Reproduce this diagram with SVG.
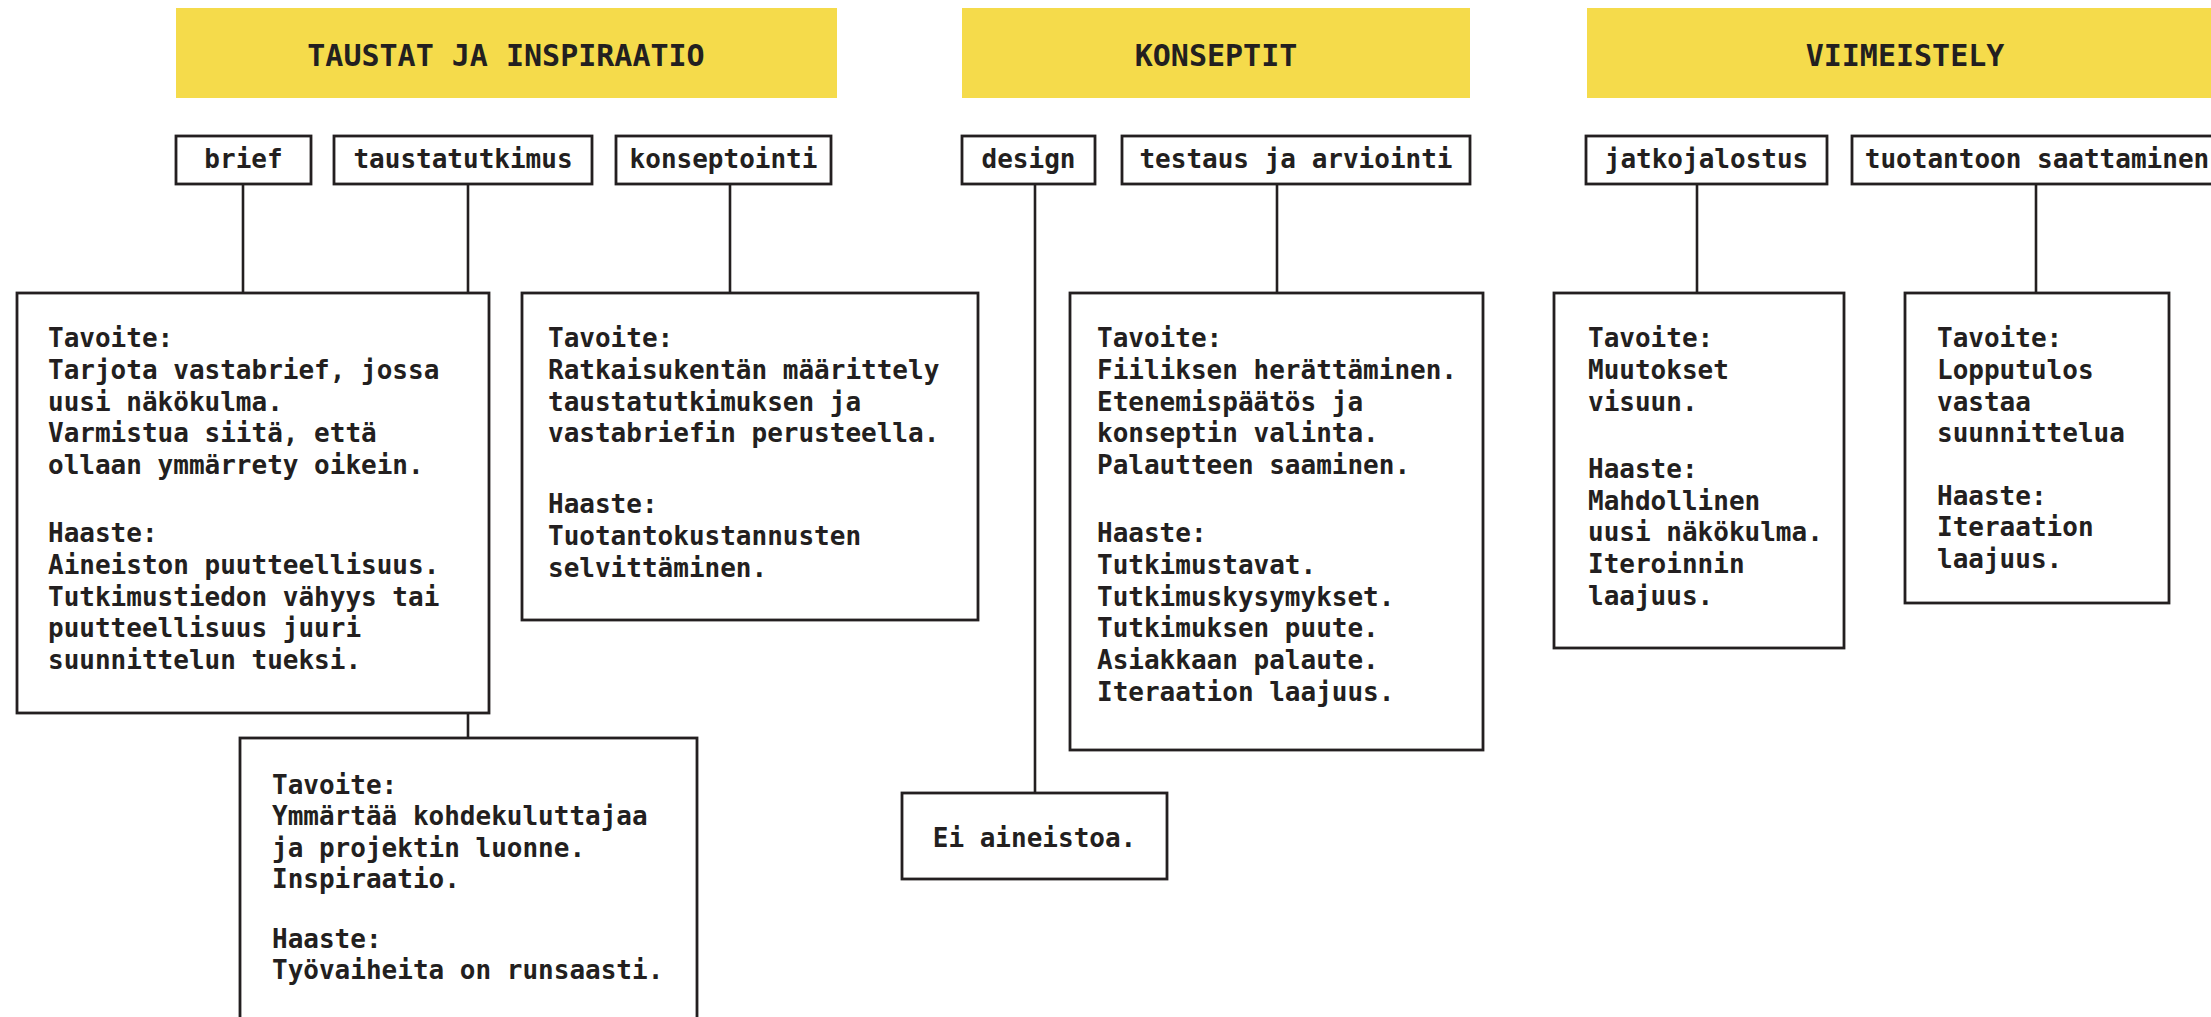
<svg xmlns="http://www.w3.org/2000/svg" width="2211" height="1017" viewBox="0 0 2211 1017">
  <style>
    .phase { fill: #F5DB4B; }
    .phase-t { font-family: "DejaVu Sans Mono", "Liberation Mono", monospace; font-weight: bold; font-size: 30px; fill: #231F20; text-anchor: middle; }
    .box { fill: #FFFFFF; stroke: #231F20; stroke-width: 2.8; }
    .t { font-family: "DejaVu Sans Mono", "Liberation Mono", monospace; font-weight: bold; font-size: 26px; fill: #231F20; }
    .c { text-anchor: middle; }
    .link { stroke: #231F20; stroke-width: 2.6; fill: none; }
  </style>

  <rect width="2211" height="1017" fill="#FFFFFF"/>

  <!-- phase headers -->
  <g id="phase-taustat">
    <rect class="phase" x="176" y="8" width="661" height="90"/>
    <text class="phase-t" x="506" y="66">TAUSTAT JA INSPIRAATIO</text>
  </g>
  <g id="phase-konseptit">
    <rect class="phase" x="962" y="8" width="508" height="90"/>
    <text class="phase-t" x="1216" y="66">KONSEPTIT</text>
  </g>
  <g id="phase-viimeistely">
    <rect class="phase" x="1587" y="8" width="640" height="90"/>
    <text class="phase-t" x="1905" y="66">VIIMEISTELY</text>
  </g>

  <!-- connectors -->
  <g id="connectors">
    <line class="link" x1="243" y1="184" x2="243" y2="293"/>
    <line class="link" x1="468" y1="184" x2="468" y2="738"/>
    <line class="link" x1="730" y1="184" x2="730" y2="293"/>
    <line class="link" x1="1035" y1="184" x2="1035" y2="793"/>
    <line class="link" x1="1277" y1="184" x2="1277" y2="293"/>
    <line class="link" x1="1697" y1="184" x2="1697" y2="293"/>
    <line class="link" x1="2036" y1="184" x2="2036" y2="293"/>
  </g>

  <!-- step labels -->
  <g id="label-brief">
    <rect class="box" x="176" y="136" width="135" height="48"/>
    <text class="t c" x="243.5" y="168">brief</text>
  </g>
  <g id="label-taustatutkimus">
    <rect class="box" x="334" y="136" width="258" height="48"/>
    <text class="t c" x="463" y="168">taustatutkimus</text>
  </g>
  <g id="label-konseptointi">
    <rect class="box" x="616" y="136" width="215" height="48"/>
    <text class="t c" x="723.5" y="168">konseptointi</text>
  </g>
  <g id="label-design">
    <rect class="box" x="962" y="136" width="133" height="48"/>
    <text class="t c" x="1028.5" y="168">design</text>
  </g>
  <g id="label-testaus">
    <rect class="box" x="1122" y="136" width="348" height="48"/>
    <text class="t c" x="1296" y="168">testaus ja arviointi</text>
  </g>
  <g id="label-jatkojalostus">
    <rect class="box" x="1586" y="136" width="241" height="48"/>
    <text class="t c" x="1706.5" y="168">jatkojalostus</text>
  </g>
  <g id="label-tuotantoon">
    <rect class="box" x="1852" y="136" width="370" height="48"/>
    <text class="t c" x="2037" y="168">tuotantoon saattaminen</text>
  </g>

  <!-- detail boxes -->
  <g id="detail-brief">
    <rect class="box" x="17" y="293" width="472" height="420"/>
    <text class="t">
      <tspan x="48" y="347">Tavoite:</tspan>
      <tspan x="48" y="379">Tarjota vastabrief, jossa</tspan>
      <tspan x="48" y="411">uusi näkökulma.</tspan>
      <tspan x="48" y="442">Varmistua siitä, että</tspan>
      <tspan x="48" y="474">ollaan ymmärrety oikein.</tspan>
      <tspan x="48" y="542">Haaste:</tspan>
      <tspan x="48" y="574">Aineiston puutteellisuus.</tspan>
      <tspan x="48" y="606">Tutkimustiedon vähyys tai</tspan>
      <tspan x="48" y="637">puutteellisuus juuri</tspan>
      <tspan x="48" y="669">suunnittelun tueksi.</tspan>
    </text>
  </g>

  <g id="detail-konseptointi">
    <rect class="box" x="522" y="293" width="456" height="327"/>
    <text class="t">
      <tspan x="548" y="347">Tavoite:</tspan>
      <tspan x="548" y="379">Ratkaisukentän määrittely</tspan>
      <tspan x="548" y="411">taustatutkimuksen ja</tspan>
      <tspan x="548" y="442">vastabriefin perusteella.</tspan>
      <tspan x="548" y="513">Haaste:</tspan>
      <tspan x="548" y="545">Tuotantokustannusten</tspan>
      <tspan x="548" y="577">selvittäminen.</tspan>
    </text>
  </g>

  <g id="detail-taustatutkimus">
    <rect class="box" x="240" y="738" width="457" height="300"/>
    <text class="t">
      <tspan x="272" y="794">Tavoite:</tspan>
      <tspan x="272" y="825">Ymmärtää kohdekuluttajaa</tspan>
      <tspan x="272" y="857">ja projektin luonne.</tspan>
      <tspan x="272" y="888">Inspiraatio.</tspan>
      <tspan x="272" y="948">Haaste:</tspan>
      <tspan x="272" y="979">Työvaiheita on runsaasti.</tspan>
    </text>
  </g>

  <g id="detail-design">
    <rect class="box" x="902" y="793" width="265" height="86"/>
    <text class="t c" x="1034.5" y="847">Ei aineistoa.</text>
  </g>

  <g id="detail-testaus">
    <rect class="box" x="1070" y="293" width="413" height="457"/>
    <text class="t">
      <tspan x="1097" y="347">Tavoite:</tspan>
      <tspan x="1097" y="379">Fiiliksen herättäminen.</tspan>
      <tspan x="1097" y="411">Etenemispäätös ja</tspan>
      <tspan x="1097" y="442">konseptin valinta.</tspan>
      <tspan x="1097" y="474">Palautteen saaminen.</tspan>
      <tspan x="1097" y="542">Haaste:</tspan>
      <tspan x="1097" y="574">Tutkimustavat.</tspan>
      <tspan x="1097" y="606">Tutkimuskysymykset.</tspan>
      <tspan x="1097" y="637">Tutkimuksen puute.</tspan>
      <tspan x="1097" y="669">Asiakkaan palaute.</tspan>
      <tspan x="1097" y="701">Iteraation laajuus.</tspan>
    </text>
  </g>

  <g id="detail-jatkojalostus">
    <rect class="box" x="1554" y="293" width="290" height="355"/>
    <text class="t">
      <tspan x="1588" y="347">Tavoite:</tspan>
      <tspan x="1588" y="379">Muutokset</tspan>
      <tspan x="1588" y="411">visuun.</tspan>
      <tspan x="1588" y="478">Haaste:</tspan>
      <tspan x="1588" y="510">Mahdollinen</tspan>
      <tspan x="1588" y="541">uusi näkökulma.</tspan>
      <tspan x="1588" y="573">Iteroinnin</tspan>
      <tspan x="1588" y="605">laajuus.</tspan>
    </text>
  </g>

  <g id="detail-tuotantoon">
    <rect class="box" x="1905" y="293" width="264" height="310"/>
    <text class="t">
      <tspan x="1937" y="347">Tavoite:</tspan>
      <tspan x="1937" y="379">Lopputulos</tspan>
      <tspan x="1937" y="411">vastaa</tspan>
      <tspan x="1937" y="442">suunnittelua</tspan>
      <tspan x="1937" y="505">Haaste:</tspan>
      <tspan x="1937" y="536">Iteraation</tspan>
      <tspan x="1937" y="568">laajuus.</tspan>
    </text>
  </g>
</svg>
